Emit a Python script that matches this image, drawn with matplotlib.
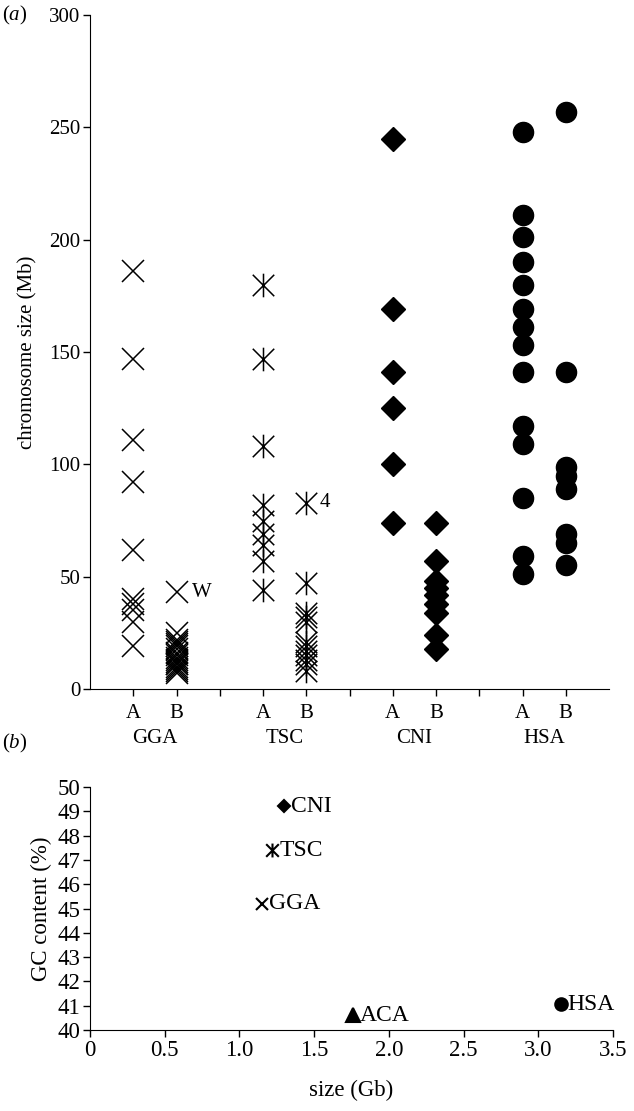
import numpy as np
import matplotlib
matplotlib.use('Agg')
import matplotlib.pyplot as plt
from matplotlib.path import Path
from matplotlib.transforms import blended_transform_factory

plt.rcParams['font.family'] = ['Liberation Serif', 'DejaVu Serif']
plt.rcParams['mathtext.fontset'] = 'custom'
plt.rcParams['mathtext.rm'] = 'Liberation Serif'
plt.rcParams['mathtext.it'] = 'Liberation Serif:italic'

# panel (a): chromosome sizes (Mb), group A and B per species
species = ['GGA', 'TSC', 'CNI', 'HSA']
gga_a = [186, 147, 111, 92, 62, 40, 38, 35, 30, 19]
gga_b = [43, 25, 22, 21, 20, 19, 18, 16, 15, 14, 13, 12, 11, 11, 10, 9, 8, 7]
tsc_a = [180, 147, 108, 82, 75, 69, 64, 57, 44]
tsc_b = [83, 47, 34, 32, 30, 21, 19, 17, 15, 13, 11, 8]
cni_a = [245, 169, 141, 125, 100, 74]
cni_b = [74, 57, 48, 45, 42, 38, 34, 24, 18]
hsa_a = [248, 211, 201, 190, 180, 169, 161, 153, 141, 117, 109, 85, 59, 51]
hsa_b = [257, 141, 99, 95, 89, 69, 65, 55]

# panel (b): genome size (Gb) vs GC content (%)
genomes = ['CNI', 'TSC', 'GGA', 'ACA', 'HSA']
genome_size = [1.30, 1.22, 1.15, 1.76, 3.15]
gc_content = [49.2, 47.4, 45.2, 40.6, 41.05]

# asterisk marker: X plus vertical bar
ast = Path([(-1, -1), (1, 1), (-1, 1), (1, -1), (0, -1.1), (0, 1.1)],
           [Path.MOVETO, Path.LINETO, Path.MOVETO, Path.LINETO, Path.MOVETO, Path.LINETO])

fig = plt.figure(figsize=(6.34, 11.11), dpi=100)
ax = fig.add_axes([0.142, 0.3798, 0.8186, 0.6067])

k = 'black'
ax.plot([1] * len(gga_a), gga_a, ls='none', marker='x', ms=16, mew=1.1, color=k)
ax.plot([2] * len(gga_b), gga_b, ls='none', marker='x', ms=16, mew=1.1, color=k)
ax.plot([4] * len(tsc_a), tsc_a, ls='none', marker=ast, ms=17, mew=1.1, color=k, mfc='none')
ax.plot([5] * len(tsc_b), tsc_b, ls='none', marker=ast, ms=17, mew=1.1, color=k, mfc='none')
ax.plot([7] * len(cni_a), cni_a, ls='none', marker='D', ms=12.5, color=k)
ax.plot([8] * len(cni_b), cni_b, ls='none', marker='D', ms=12.5, color=k)
ax.plot([10] * len(hsa_a), hsa_a, ls='none', marker='o', ms=14.5, color=k)
ax.plot([11] * len(hsa_b), hsa_b, ls='none', marker='o', ms=14.5, color=k)

ax.text(2.35, gga_b[0], 'W', fontsize=15, va='center', ha='left')
ax.text(5.3, tsc_b[0], '4', fontsize=15, va='center', ha='left')

ax.set_xlim(0, 12)
ax.set_ylim(0, 300)
ax.set_yticks(range(0, 301, 50))
ax.set_xticks(range(1, 12))
ax.set_xticklabels(['A', 'B', '', 'A', 'B', '', 'A', 'B', '', 'A', 'B'])
for s in ['top', 'right']:
    ax.spines[s].set_visible(False)
ax.tick_params(direction='out', length=5, width=1, labelsize=15, pad=2)
ax.tick_params(axis='x', pad=6)
ax.set_ylabel('chromosome size (Mb)', fontsize=15, labelpad=8)
trans = blended_transform_factory(ax.transData, ax.transAxes)
for i, name in enumerate(species):
    ax.text(1.5 + 3 * i, -0.06, name, transform=trans, ha='center', va='top', fontsize=15)
fig.text(0.003, 0.986, '($a$)', fontsize=15, va='center', ha='left')

# panel (b)
bx = fig.add_axes([0.142, 0.0729, 0.825, 0.2187])
bmarkers = {'CNI': ('D', 6.5, None), 'TSC': (ast, 10, 'none'), 'GGA': ('x', 9, None),
            'ACA': ('^', 10, None), 'HSA': ('o', 9, None)}
for name, sx, gy in zip(genomes, genome_size, gc_content):
    m, ms, fc = bmarkers[name]
    if fc is None:
        bx.plot(sx, gy, ls='none', marker=m, ms=ms, mew=1.5, color=k)
    else:
        bx.plot(sx, gy, ls='none', marker=m, ms=ms, mew=1.5, color=k, mfc=fc)
    bx.text(sx + 0.045, gy, name, fontsize=17, va='center', ha='left')

bx.set_xlim(0, 3.5)
bx.set_ylim(40, 50)
bx.set_yticks(range(40, 51))
bx.set_xticks(np.arange(0, 3.51, 0.5))
bx.set_xticklabels(['0', '0.5', '1.0', '1.5', '2.0', '2.5', '3.0', '3.5'])
for s in ['top', 'right']:
    bx.spines[s].set_visible(False)
bx.tick_params(direction='out', length=5, width=1, labelsize=16.5, pad=2)
bx.set_ylabel('GC content (%)', fontsize=16.5, labelpad=4)
bx.set_xlabel('size (Gb)', fontsize=16.5, labelpad=14)
fig.text(0.003, 0.331, '($b$)', fontsize=15, va='center', ha='left')

fig.savefig('out.png', dpi=100)
